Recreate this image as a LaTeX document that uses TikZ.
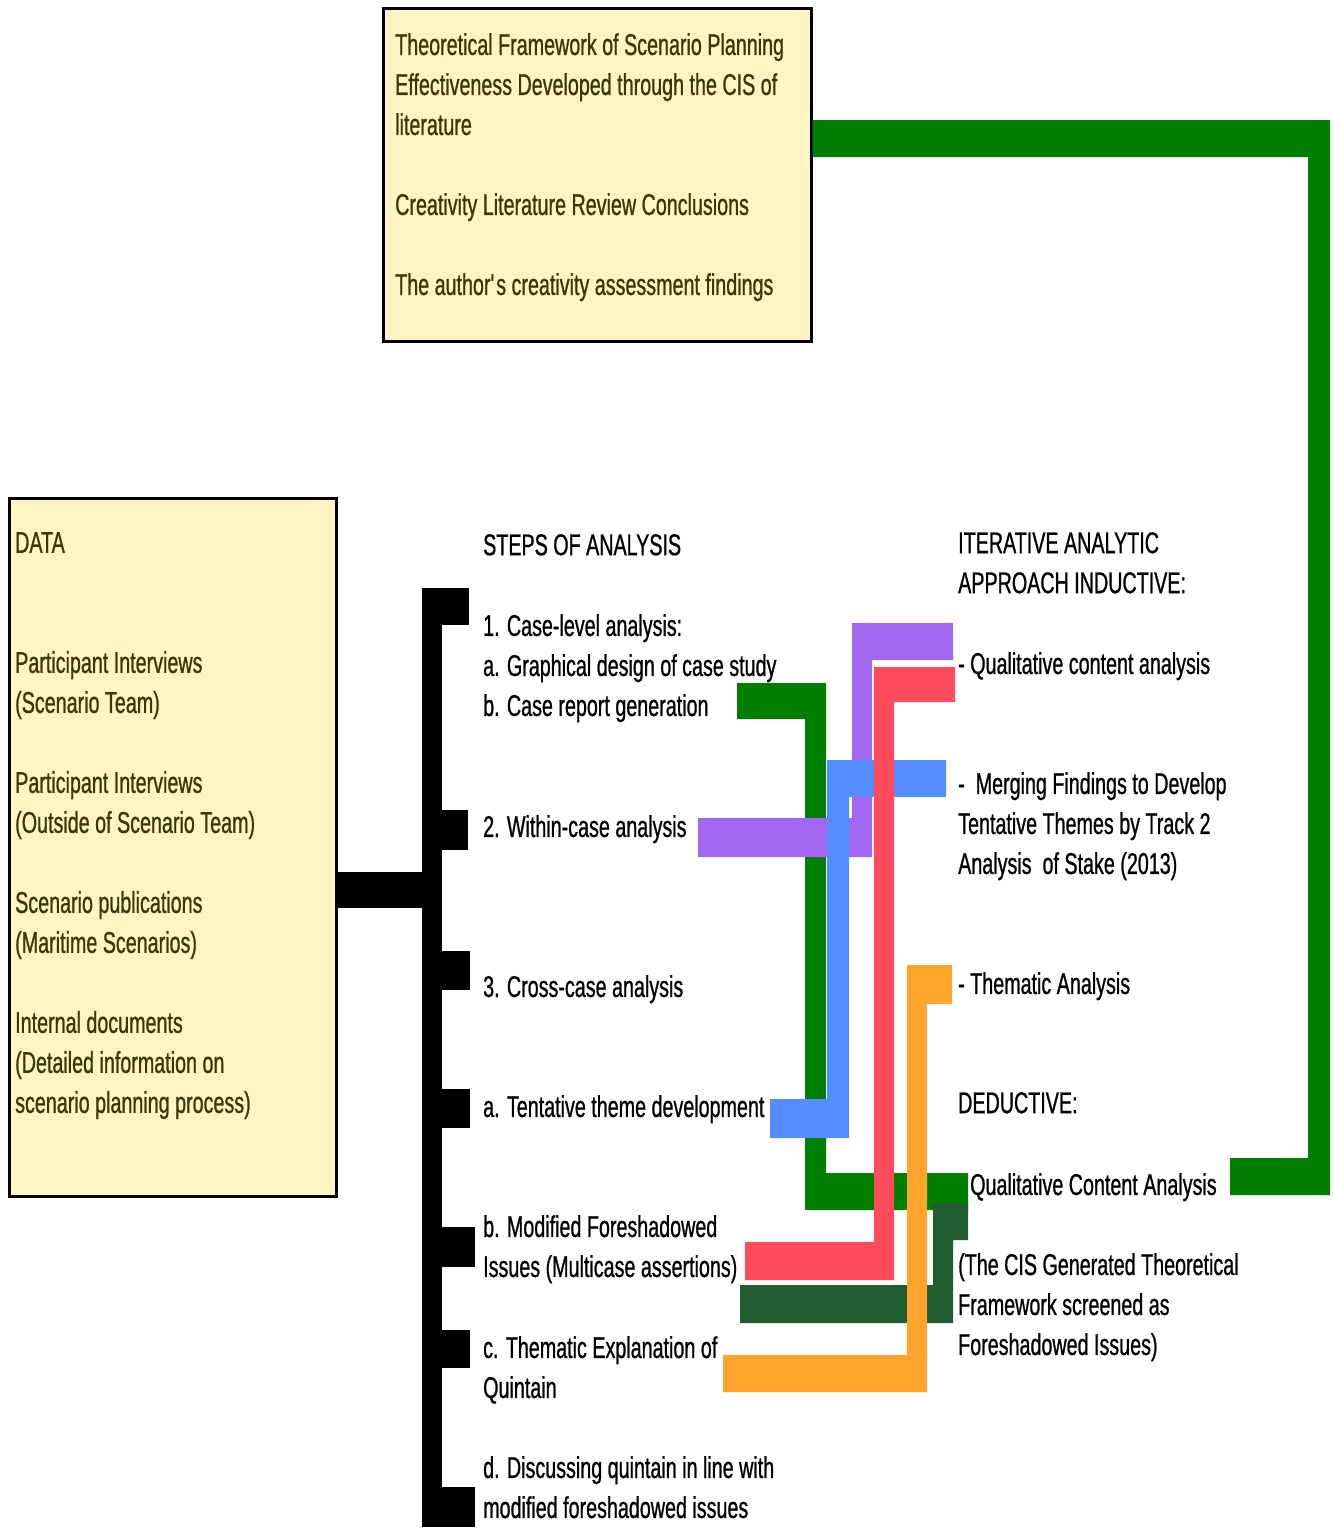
\documentclass[tikz,border=0pt]{standalone}
\usepackage{fontspec}
\setmainfont{Liberation Sans}[FakeStretch=0.657,FakeBold=0.8]
\definecolor{cgreen}{HTML}{007F00}
\definecolor{cdkgreen}{HTML}{1F5C2F}
\definecolor{cpurple}{HTML}{A366F0}
\definecolor{cred}{HTML}{FF4B5C}
\definecolor{cblue}{HTML}{558CFF}
\definecolor{corange}{HTML}{FFA42C}
\definecolor{cyellow}{HTML}{FFF4C2}
\definecolor{boxtxt}{RGB}{60,55,10}
\begin{document}
\begin{tikzpicture}[x=1pt,y=-1pt,
  panel/.style={draw=black, line width=3pt, fill=cyellow, inner sep=0pt, anchor=north west},
  boxtext/.style={anchor=north west, inner sep=0pt, align=left, text=boxtxt, font=\fontsize{30}{40}\selectfont},
  label/.style={anchor=north west, inner sep=0pt, align=left, text=black, font=\fontsize{30}{40}\selectfont},
  bar/.style={fill=black}
]
\useasboundingbox (0,0) rectangle (1333,1528);

% panels
\node[panel, minimum width=428pt, minimum height=332pt] (topbox) at (381.5,7.5) {};
\node[panel, minimum width=327pt, minimum height=698pt] (databox) at (7.5,496.5) {};

\node[boxtext] (toptext) at (395,33) {Theoretical Framework of Scenario Planning\\Effectiveness Developed through the CIS of\\literature\\[40pt]Creativity Literature Review Conclusions\\[40pt]The author\textquotesingle s creativity assessment findings};

\node[boxtext] (datatext) at (15,532) {DATA\\[80pt]Participant Interviews\\(Scenario Team)\\[40pt]Participant Interviews\\(Outside of Scenario Team)\\[40pt]Scenario publications\\(Maritime Scenarios)\\[40pt]Internal documents\\(Detailed information on\\scenario planning process)};

% steps
\node[label] (steps) at (483,534) {STEPS OF ANALYSIS};
\node[label] (s1) at (483,614) {1. Case-level analysis:\\a. Graphical design of case study\\b. Case report generation};
\node[label] (s2) at (483,815) {2. Within-case analysis};
\node[label] (s3) at (483,975) {3. Cross-case analysis};
\node[label] (sa) at (483,1095) {a. Tentative theme development};
\node[label] (sb) at (483,1215) {b. Modified Foreshadowed\\Issues (Multicase assertions)};
\node[label] (sc) at (483,1336) {c. Thematic Explanation of\\Quintain};
\node[label] (sd) at (483,1456) {d. Discussing quintain in line with\\modified foreshadowed issues};

% right column
\node[label] (iter) at (958,532) {ITERATIVE ANALYTIC\\APPROACH INDUCTIVE:};
\node[label] (qca) at (958,652) {- Qualitative content analysis};
\node[label] (merge) at (958,772) {-\ \ Merging Findings to Develop\\Tentative Themes by Track 2\\Analysis\ \ of Stake (2013)};
\node[label] (thema) at (958,972) {- Thematic Analysis};
\node[label] (deduct) at (958,1092) {DEDUCTIVE:};
\node[label] (qcad) at (970,1173) {Qualitative Content Analysis};
\node[label] (cis) at (958,1253) {(The CIS Generated Theoretical\\Framework screened as\\Foreshadowed Issues)};

% black bracket: data -> steps
\fill[bar] (databox.east |- 0,872) rectangle (422,908);
\fill[bar] (422,588) rectangle (442,1527);
\fill[bar] (422,588) rectangle (469,625);
\fill[bar] (442,810) rectangle (468,850);
\fill[bar] (442,951) rectangle (470,990);
\fill[bar] (442,1089) rectangle (470,1128);
\fill[bar] (442,1227) rectangle (475,1267);
\fill[bar] (442,1330) rectangle (470,1368);
\fill[bar] (442,1487) rectangle (475,1527);

% green: top box -> deductive qualitative content analysis
\fill[cgreen] (topbox.east |- 0,120) -- (1330,120) -- (1330,1195) -- (1230,1195) -- (1230,1158) -- (1308,1158) -- (1308,157) -- (topbox.east |- 0,157) -- cycle;
% green: case report -> qualitative content analysis
\fill[cgreen] (737,683) -- (826,683) -- (826,1173) -- (968,1173) -- (968,1210) -- (805,1210) -- (805,719) -- (737,719) -- cycle;
% purple: within-case -> qualitative content analysis
\fill[cpurple] (852,623) -- (953,623) -- (953,660) -- (872,660) -- (872,857) -- (698,857) -- (698,818) -- (852,818) -- cycle;
% blue: tentative theme -> merging findings
\fill[cblue] (827,760) -- (946,760) -- (946,797) -- (849,797) -- (849,1138) -- (770,1138) -- (770,1099) -- (827,1099) -- cycle;
% dark green: CIS -> modified foreshadowed
\fill[cdkgreen] (933,1203) -- (968,1203) -- (968,1240) -- (953,1240) -- (953,1323) -- (740,1323) -- (740,1285) -- (933,1285) -- cycle;
% red: modified foreshadowed -> qualitative content analysis
\fill[cred] (874,667) -- (955,667) -- (955,702) -- (894,702) -- (894,1280) -- (745,1280) -- (745,1242) -- (874,1242) -- cycle;
% orange: thematic explanation -> thematic analysis
\fill[corange] (907,965) -- (952,965) -- (952,1004) -- (927,1004) -- (927,1392) -- (723,1392) -- (723,1355) -- (907,1355) -- cycle;
\end{tikzpicture}
\end{document}
